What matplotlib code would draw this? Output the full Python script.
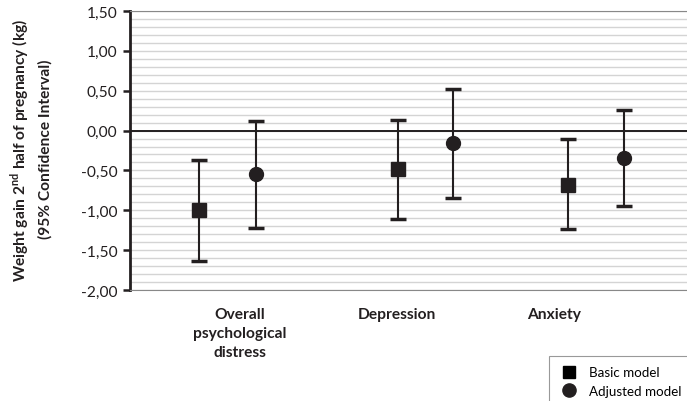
import matplotlib
matplotlib.use("Agg")
import matplotlib.pyplot as plt
import numpy as np
from matplotlib.ticker import MultipleLocator
from matplotlib.lines import Line2D

plt.rcParams['font.family'] = ['Lato', 'DejaVu Sans']
plt.rcParams['mathtext.fontset'] = 'custom'
plt.rcParams['mathtext.rm'] = 'Lato'
plt.rcParams['mathtext.bf'] = 'Lato:bold'

categories = ["Overall\npsychological\ndistress", "Depression", "Anxiety"]
category_pos = [0.70, 1.70, 2.70]

basic_x = [0.44, 1.71, 2.79]
basic_est = [-1.00, -0.48, -0.68]
basic_low = [-1.63, -1.11, -1.24]
basic_high = [-0.37, 0.13, -0.11]

adj_x = [0.80, 2.06, 3.15]
adj_est = [-0.55, -0.16, -0.34]
adj_low = [-1.22, -0.85, -0.94]
adj_high = [0.12, 0.52, 0.26]

y_ticks = [-2.0, -1.5, -1.0, -0.5, 0.0, 0.5, 1.0, 1.5]
y_tick_labels = ["-2,00", "-1,50", "-1,00", "-0,50", "0,00", "0,50", "1,00", "1,50"]

dark = "#231f20"
fs = 11.2

fig = plt.figure(figsize=(6.87, 4.02), dpi=100)
ax = fig.add_axes([130 / 687, 1 - 291 / 402, 557 / 687, 279 / 402])
ax.set_xlim(0, 3.55)
ax.set_ylim(-2.0, 1.5)

# light gridlines every 0.1
ax.yaxis.set_minor_locator(MultipleLocator(0.1))
ax.grid(which='minor', axis='y', color='#d4d4d4', linewidth=1.0)
ax.grid(which='major', axis='y', color='#d4d4d4', linewidth=1.0)
ax.set_axisbelow(True)
ax.axhline(0, color=dark, linewidth=1.4, zorder=2)

def draw(xs, est, low, high, marker, size):
    est = np.array(est)
    yerr = np.vstack([est - np.array(low), np.array(high) - est])
    ax.errorbar(xs, est, yerr=yerr, fmt=marker, color=dark, ecolor=dark,
                markersize=size, elinewidth=1.5, capsize=6, capthick=2.5,
                zorder=3)

draw(basic_x, basic_est, basic_low, basic_high, 's', 9.5)
draw(adj_x, adj_est, adj_low, adj_high, 'o', 10)

ax.set_yticks(y_ticks)
ax.set_yticklabels(y_tick_labels, fontsize=fs, color=dark)
ax.tick_params(axis='y', which='major', direction='out', length=5, width=1.8,
               color=dark, pad=4)
ax.tick_params(axis='y', which='minor', length=0)
ax.set_xticks(category_pos)
ax.set_xticklabels(categories, fontsize=fs, fontweight='bold', color=dark,
                   linespacing=1.45)
ax.tick_params(axis='x', length=0, pad=12)

ax.spines['right'].set_visible(False)
ax.spines['left'].set_color(dark)
ax.spines['left'].set_linewidth(2.0)
for s in ('top', 'bottom'):
    ax.spines[s].set_color('#888888')
    ax.spines[s].set_linewidth(0.8)
    ax.spines[s].set_linestyle((0, (2, 1)))

fig.text(20 / 687, 1 - 150 / 402, r"Weight gain 2$^{\mathbf{nd}}$ half of pregnancy (kg)",
         rotation=90, ha='center', va='center', fontsize=fs, fontweight='bold',
         color=dark)
fig.text(45 / 687, 1 - 149 / 402, "(95% Confidence Interval)",
         rotation=90, ha='center', va='center', fontsize=fs, fontweight='bold',
         color=dark)

handles = [Line2D([], [], linestyle='none', marker='s', markersize=9, color='black'),
           Line2D([], [], linestyle='none', marker='o', markersize=9.5, color=dark)]
leg = fig.legend(handles, ["Basic model", "Adjusted model"],
                 loc='lower left', bbox_to_anchor=(549 / 687, -0.015),
                 fontsize=9.6, frameon=True, fancybox=False, borderpad=0.75,
                 handletextpad=0.75, labelspacing=0.5, handlelength=1.5,
                 borderaxespad=0)
leg.get_frame().set_edgecolor('#808080')
leg.get_frame().set_linewidth(0.8)

fig.savefig("out.png", dpi=100)
